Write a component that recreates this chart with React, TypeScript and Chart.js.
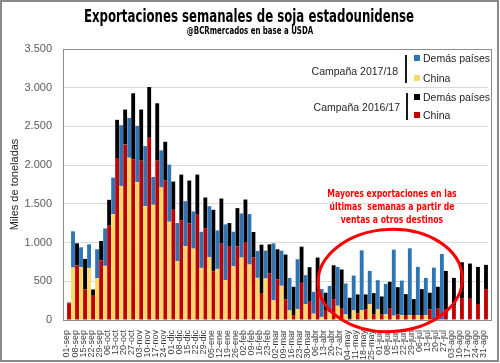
import React, { useEffect, useRef } from 'react';
import { Chart, registerables } from 'chart.js';

Chart.register(...registerables);

const weeks = [
  '01-sep', '08-sep', '15-sep', '22-sep', '29-sep', '06-oct', '13-oct', '20-oct', '27-oct',
  '03-nov', '10-nov', '17-nov', '24-nov', '01-dic', '08-dic', '15-dic', '22-dic', '29-dic',
  '05-ene', '12-ene', '19-ene', '26-ene', '02-feb', '09-feb', '16-feb', '23-feb',
  '02-mar', '09-mar', '16-mar', '23-mar', '30-mar', '06-abr', '13-abr', '20-abr', '27-abr',
  '04-may', '11-may', '18-may', '25-may', '01-jun', '08-jun', '15-jun', '22-jun', '29-jun',
  '06-jul', '13-jul', '20-jul', '27-jul', '03-ago', '10-ago', '17-ago', '24-ago', '31-ago',
];

// Campaña 2017/18
const china1718 = [
  null, 677, 682, 673, 540, 699, 1368, 1732, 2096, 1783, 1470, 1488, 1711, 1269, 759, 956, 922,
  673, 810, 660, 514, 692, 806, 716, 544, 536, 253, 442, 124, 141, 206, 81, 40, 100, 184, 73,
  124, 129, 206, 137, 73, 56, 64, 64, 64, 64, 10, 0, null, null, null, null, null,
];
const otros1718 = [
  null, 468, 257, 304, 373, 484, 471, 784, 515, 725, 776, 360, 480, 737, 493, 579, 480,
  467, 660, 497, 721, 448, 570, 652, 348, 360, 737, 454, 420, 644, 373, 283, 360, 340, 502, 399,
  450, 771, 428, 377, 394, 853, 445, 862, 622, 480, 667, 853, null, null, null, null, null,
];

// Campaña 2016/17
const china1617 = [
  215, 707, 394, 313, 772, 1218, 2092, 2268, 2075, 2058, 2353, 2058, 1801, 1423, 1290, 1248,
  1359, 1187, 626, 986, 956, 952, 1007, 810, 339, 604, 527, 266, 64, 480, 236, 364, 130, 270,
  146, 15, 86, 141, 69, 69, 146, 73, 64, 64, 64, 137, 146, 141, 184, 283, 274, 206, 399,
];
const otros1617 = [
  10, 283, 395, 81, 248, 334, 493, 450, 853, 660, 656, 741, 501, 365, 588, 553, 519, 395, 797,
  583, 296, 493, 549, 326, 634, 373, 386, 579, 365, 467, 446, 442, 222, 437, 506, 272, 244, 189,
  278, 235, 347, 351, 270, 206, 335, 215, 283, 493, 360, 463, 455, 480, 313,
];

const Y_MAX = 3500;
const Y_STEP = 500;

const COLORS = {
  blue: '#2E75B6',
  yellow: '#FFD966',
  black: '#000000',
  red: '#C00000',
};

const SANS = '"Liberation Sans", Arial, sans-serif';
const NARROW = '"Liberation Sans Narrow", "DejaVu Sans Condensed", "Arial Narrow", sans-serif';

const fmt = (v: number) => {
  if (v >= 1000) {
    const t = Math.floor(v / 1000);
    const r = String(v % 1000).padStart(3, '0');
    return `${t}.${r}`;
  }
  return String(v);
};

// highlighted region (in data units: category index, value)
const ellipseCenter = { idx: 40.3, value: 510 };
const ellipseRadius = { idx: 9, value: 660 };

const decorPlugin = {
  id: 'decor',
  afterDatasetsDraw(chart: any) {
    const { ctx, chartArea, scales } = chart;
    const { left, right, top, bottom } = chartArea;
    const x = scales.x;
    const y = scales.y;
    ctx.save();
    ctx.strokeStyle = '#8C8C8C';
    ctx.lineWidth = 1;
    ctx.strokeRect(Math.round(left) + 0.5, Math.round(top) + 0.5, Math.round(right - left) + 3, Math.round(bottom - top));
    const cx = x.getPixelForValue(ellipseCenter.idx);
    const cy = y.getPixelForValue(ellipseCenter.value);
    const rx = x.getPixelForValue(ellipseCenter.idx + ellipseRadius.idx) - cx;
    const ry = cy - y.getPixelForValue(ellipseCenter.value + ellipseRadius.value);
    ctx.beginPath();
    ctx.ellipse(cx, cy, rx, ry, -0.05, 0, Math.PI * 2);
    ctx.strokeStyle = '#FF0000';
    ctx.lineWidth = 3;
    ctx.stroke();
    ctx.restore();
  },
};

const Txt = ({ x, y, align = 'center', sx = 1, style, children }: any) => {
  const tx = align === 'center' ? '-50%' : align === 'right' ? '-100%' : '0';
  const origin = align === 'center' ? 'center center' : align === 'right' ? 'right center' : 'left center';
  return (
    <div
      style={{
        position: 'absolute',
        left: x,
        top: y,
        transform: `translate(${tx}, -50%) scaleX(${sx})`,
        transformOrigin: origin,
        whiteSpace: 'pre',
        lineHeight: 1,
        ...style,
      }}
    >
      {children}
    </div>
  );
};

const Square = ({ x, y, color }: any) => (
  <div style={{ position: 'absolute', left: x, top: y - 3, width: 6, height: 6, background: color }} />
);

const Bracket = ({ x, top, height }: any) => (
  <div
    style={{
      position: 'absolute',
      left: x,
      top,
      width: 2,
      height,
      borderLeft: '2px solid #1a1a1a',
      borderTop: '1px solid #1a1a1a',
      borderBottom: '1px solid #1a1a1a',
      boxSizing: 'border-box',
    }}
  />
);

export default function App() {
  const ref = useRef<HTMLCanvasElement | null>(null);

  useEffect(() => {
    if (!ref.current) return;
    const chart = new Chart(ref.current, {
      type: 'bar',
      data: {
        labels: weeks,
        datasets: [
          { label: 'China 2017/18', data: china1718, backgroundColor: COLORS.yellow, stack: '1718' },
          { label: 'Demás países 2017/18', data: otros1718, backgroundColor: COLORS.blue, stack: '1718' },
          { label: 'China 2016/17', data: china1617, backgroundColor: COLORS.red, stack: '1617' },
          { label: 'Demás países 2016/17', data: otros1617, backgroundColor: COLORS.black, stack: '1617' },
        ],
      },
      options: {
        responsive: false,
        animation: false,
        devicePixelRatio: 1,
        layout: { padding: { left: 0, right: 12, top: 49, bottom: 0 } },
        datasets: { bar: { categoryPercentage: 1, barPercentage: 0.96 } } as any,
        plugins: {
          legend: { display: false },
          tooltip: { enabled: false },
          title: { display: false },
        },
        scales: {
          x: {
            stacked: true,
            grid: { display: false },
            border: { display: false },
            ticks: {
              autoSkip: false,
              minRotation: 90,
              maxRotation: 90,
              padding: 2,
              color: '#404040',
              font: { size: 9, family: SANS },
            },
            afterFit: (s: any) => {
              s.height = 43;
            },
          },
          y: {
            stacked: true,
            min: 0,
            max: Y_MAX,
            grid: { color: '#D9D9D9', drawTicks: false },
            border: { display: false },
            ticks: {
              stepSize: Y_STEP,
              padding: 11,
              color: '#595959',
              font: { size: 11, family: SANS },
              callback: (v: any) => fmt(Number(v)),
            },
            title: {
              display: true,
              text: 'Miles de toneladas',
              color: '#262626',
              font: { size: 11, family: SANS },
              padding: { top: 8, bottom: 0 },
            },
            afterFit: (s: any) => {
              s.width = 63;
            },
          },
        },
      },
      plugins: [decorPlugin],
    } as any);
    return () => chart.destroy();
  }, []);

  const legendText = { fontFamily: SANS, fontSize: 10.5, color: '#262626' };
  const noteStyle = { fontFamily: NARROW, fontWeight: 700, fontSize: 11, color: '#FF0000' };

  return (
    <div style={{ position: 'fixed', left: 0, top: 0, width: 500, height: 363, background: '#fff', overflow: 'hidden' }}>
      <canvas ref={ref} width={500} height={363} style={{ position: 'absolute', left: 0, top: 0, width: 500, height: 363 }} />
      <div
        style={{
          position: 'absolute',
          left: 0,
          top: 0,
          width: 499,
          height: 362,
          border: '2px solid #8a8a8a',
          boxSizing: 'border-box',
          pointerEvents: 'none',
        }}
      />
      <Txt x={249} y={16} sx={0.77} style={{ fontFamily: NARROW, fontWeight: 700, fontSize: 17, color: '#000' }}>
        Exportaciones semanales de soja estadounidense
      </Txt>
      <Txt x={250} y={31} sx={0.78} style={{ fontFamily: NARROW, fontWeight: 700, fontSize: 10, color: '#000' }}>
        @BCRmercados en base a USDA
      </Txt>

      <Txt x={398} y={71} align="right" style={legendText}>Campaña 2017/18</Txt>
      <Bracket x={405} top={55} height={28} />
      <Square x={414} y={58} color={COLORS.blue} />
      <Txt x={423} y={58} align="left" style={legendText}>Demás países</Txt>
      <Square x={414} y={78} color={COLORS.yellow} />
      <Txt x={423} y={78} align="left" style={legendText}>China</Txt>

      <Txt x={400} y={107} align="right" style={legendText}>Campaña 2016/17</Txt>
      <Bracket x={406} top={93} height={27} />
      <Square x={414} y={97} color={COLORS.black} />
      <Txt x={423} y={97} align="left" style={legendText}>Demás países</Txt>
      <Square x={414} y={115} color={COLORS.red} />
      <Txt x={423} y={115} align="left" style={legendText}>China</Txt>

      <Txt x={392} y={193} sx={0.78} style={noteStyle}>Mayores exportaciones en las</Txt>
      <Txt x={392} y={206} sx={0.78} style={noteStyle}>últimas  semanas a partir de</Txt>
      <Txt x={392} y={219} sx={0.78} style={noteStyle}>ventas a otros destinos</Txt>
    </div>
  );
}
